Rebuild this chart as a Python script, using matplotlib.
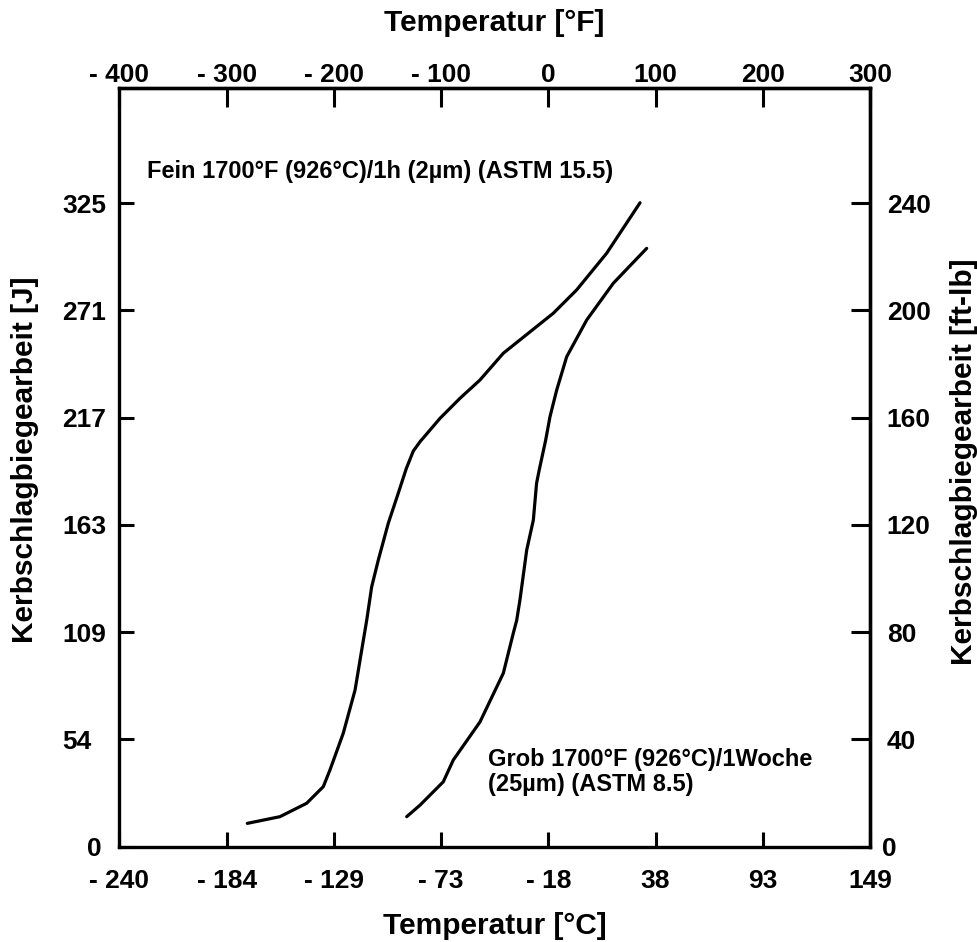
import matplotlib
matplotlib.use("Agg")
import matplotlib.pyplot as plt
import matplotlib.transforms as mtransforms

# ----------------------------------------------------------------------------
# Data (temperature in deg F, energy in ft-lb)
# ----------------------------------------------------------------------------
temp_f_ticks = [-400, -300, -200, -100, 0, 100, 200, 300]
temp_c_labels = [-240, -184, -129, -73, -18, 38, 93, 149]
energy_ftlb_ticks = [0, 40, 80, 120, 160, 200, 240]
energy_j_labels = [0, 54, 109, 163, 217, 271, 325]

# fine grain, 1700F / 1h
fine_temp = [-280.8, -250.3, -225.4, -209.9, -203.7, -191.3, -180.3, -174.1,
             -169.4, -164.8, -158.6, -149.3, -140.0, -132.5, -126.0, -119.7,
             -101.1, -82.4, -63.8, -42.0, 4.6, 26.4, 54.4, 85.5]
fine_energy = [8.7, 11.2, 16.2, 22.4, 28.6, 42.3, 58.4, 73.3,
               84.5, 96.9, 106.9, 120.6, 131.8, 141.0, 147.5, 151.0,
               159.7, 167.2, 174.0, 184.0, 198.9, 207.6, 221.3, 240.1]

# coarse grain, 1700F / 1 week
coarse_temp = [-132.1, -119.7, -98.0, -88.7, -63.8, -42.0, -32.7, -29.5,
               -26.5, -20.2, -14.0, -11.0, -8.5, -2.5, 1.5, 7.8, 17.1,
               35.8, 60.6, 91.7]
coarse_energy = [11.2, 15.5, 24.2, 32.3, 46.5, 64.7, 79.6, 84.5,
                 92.0, 110.6, 121.8, 135.5, 140.5, 151.6, 160.3, 170.3, 182.7,
                 196.4, 210.1, 223.1]

fine_text = "Fein 1700°F (926°C)/1h (2µm) (ASTM 15.5)"
coarse_text = "Grob 1700°F (926°C)/1Woche\n(25µm) (ASTM 8.5)"


def fmt(v):
    # labels are written as "- 240" in the original
    return "- %d" % abs(v) if v < 0 else "%d" % v


plt.rcParams['font.family'] = ['Liberation Sans', 'DejaVu Sans']
plt.rcParams['font.weight'] = 'bold'

fig = plt.figure(figsize=(9.78, 9.42), dpi=100)
ax = fig.add_axes([119.5 / 978, (942 - 846.7) / 942, 750.5 / 978, 759 / 942])

ax.plot(fine_temp, fine_energy, color='black', lw=2.3, solid_capstyle='round',
        solid_joinstyle='round')
ax.plot(coarse_temp, coarse_energy, color='black', lw=2.3,
        solid_capstyle='round', solid_joinstyle='round')

ax.set_xlim(-400, 300)
ax.set_ylim(0, 283)

for s in ax.spines.values():
    s.set_linewidth(2.4)

# bottom: deg C labels
ax.set_xticks(temp_f_ticks, labels=[fmt(v) for v in temp_c_labels])
ax.tick_params(axis='x', direction='in', length=11, width=2.2, pad=16,
               labelsize=19)
# left: J labels, left aligned
ax.set_yticks(energy_ftlb_ticks, labels=[fmt(v) for v in energy_j_labels])
ax.tick_params(axis='y', direction='in', length=11, width=2.2, pad=41.4,
               labelsize=19)
for lab in ax.get_yticklabels():
    lab.set_horizontalalignment('left')

# top: deg F
top = ax.secondary_xaxis('top')
top.set_xticks(temp_f_ticks, labels=[fmt(v) for v in temp_f_ticks])
top.tick_params(direction='in', length=14, width=2.2, pad=0.5, labelsize=19)
top.spines['top'].set_linewidth(2.4)

# right: ft-lb
right = ax.secondary_yaxis('right')
right.set_yticks(energy_ftlb_ticks, labels=[fmt(v) for v in energy_ftlb_ticks])
right.tick_params(direction='in', length=14, width=2.2, pad=12, labelsize=19)
right.spines['right'].set_linewidth(2.4)

# the two "0" labels sit a bit off in the original
lab0 = ax.yaxis.get_major_ticks()[0].label1
lab0.set_transform(lab0.get_transform() +
                   mtransforms.ScaledTranslation(0.25, 0, fig.dpi_scale_trans))
rlab0 = right.yaxis.get_major_ticks()[0].label2
rlab0.set_transform(rlab0.get_transform() +
                    mtransforms.ScaledTranslation(-0.05, 0, fig.dpi_scale_trans))

ax.text(-374.6, 251.7, fine_text, fontsize=17, ha='left', va='center')
ax.text(-56.0, 27.9, coarse_text, fontsize=17, ha='left', va='center',
        linespacing=1.15)

fig.text(0.5058, 0.0085, "Temperatur [°C]", fontsize=21.5, ha='center',
         va='baseline')
fig.text(0.5058, 0.967, "Temperatur [°F]", fontsize=21.5, ha='center',
         va='baseline')
fig.text(0.0256, 0.5117, "Kerbschlagbiegearbeit [J]", fontsize=21.5,
         ha='center', va='center', rotation=90)
fig.text(0.9857, 0.5095, "Kerbschlagbiegearbeit [ft-lb]", fontsize=21.5,
         ha='center', va='center', rotation=90)

fig.savefig('out.png', dpi=100)
